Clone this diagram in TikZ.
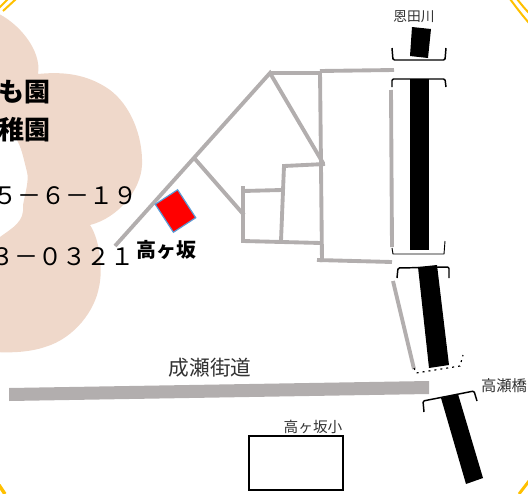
\documentclass[tikz,border=0pt]{standalone}
\usepackage{fontspec}
\newfontfamily\jp{Noto Sans CJK JP}
\newcommand{\jpsize}[1]{\fontsize{#1}{#1}\selectfont\jp}
\tikzset{
 x=0.75pt,y=-0.75pt,
 road/.style={draw=roadgray,line width=2.9pt,line cap=butt},
 river/.style={fill=black,draw=none},
 bank/.style={draw=black,line width=1.1pt,rounded corners=1pt},
 label/.style={text=labelgray,inner sep=0pt,anchor=center},
 corner/.style={draw=cornerorange,line width=1.5pt},
}
\definecolor{roadgray}{HTML}{B2AEAE}
\definecolor{labelgray}{HTML}{333333}
\definecolor{cornerorange}{HTML}{FFC000}
\definecolor{blob}{HTML}{EFD8CA}
\begin{document}
\begin{tikzpicture}
\useasboundingbox (0,0) rectangle (528,493);
\begin{scope}
\clip (0,0) rectangle (528,493);
% blob
\fill[blob] (-5,12) .. controls (18,22) and (42,50) .. (38,74)
 .. controls (58,72) and (85,72) .. (110,90)
 .. controls (130,105) and (143,135) .. (142,165)
 .. controls (141,190) and (118,218) .. (90,225)
 .. controls (100,240) and (103,270) .. (99,287)
 .. controls (95,310) and (75,338) .. (45,347)
 .. controls (30,352) and (12,353) .. (-5,352)
 -- (-5,237) -- (0,237)
 .. controls (12,228) and (25,222) .. (23,205)
 .. controls (26,190) and (29,180) .. (27,172)
 .. controls (24,160) and (22,150) .. (18,142)
 .. controls (14,134) and (6,125) .. (-5,120) -- cycle;
% corners
\draw[corner] (3,11) -- (16,-1);
\draw[corner] (-1,8) -- (8,-1);
\draw[corner] (510,-1) .. controls (516,7) and (522,15) .. (529,23);
\draw[corner] (517,-1) .. controls (521,4) and (525,9) .. (529,13);
\draw[corner,line width=2.2pt] (519,494) -- (529,481);
\draw[corner,line width=2.6pt] (-1,485) -- (5,494);
% text
\node[anchor=east,inner sep=0pt] (t1) at (51,92) {\jpsize{19.5}\bfseries も園};
\node[anchor=east,inner sep=0pt] (t2) at (51,130) {\jpsize{19.5}\bfseries 稚園};
\node[anchor=east,inner sep=0pt] (t3) at (138,196) {\jpsize{18}５－６－１９};
\node[anchor=east,inner sep=0pt] (t4) at (135,257) {\jpsize{18}３－０３２１};
% roads
\draw[road] (115,246) -- (270,73) -- (323,163);
\draw[road] (195,159) -- (244,215);
\draw[road] (270,73) -- (320,73);
\draw[road] (320,71) -- (394,70);
\draw[road] (320,71) -- (322,262);
\draw[road] (317,260) -- (392,262);
\draw[road] (325,164) -- (284,166) -- (281,241);
\draw[road] (243,186) -- (243,241) -- (321,243);
\draw[road] (243,191) -- (282,190);
\draw[road] (391,90) -- (392,247);
\draw[road] (393,281) -- (414,369);
% main road
\fill[roadgray] (9,388) -- (429,381) -- (429,394) -- (9,401) -- cycle;
% river
\fill[river] (412,27) -- (431,29) -- (428,58) -- (410,56) -- cycle;
\fill[river] (410,79) -- (429,79) -- (429,250) -- (410,250) -- cycle;
\fill[river] (418,267) -- (437,265) -- (449,365) -- (429,368) -- cycle;
\fill[river] (441,398) -- (458,394) -- (483,478) -- (466,484) -- cycle;
% banks
\draw[bank] (392,48) -- (393,60) -- (445,60) -- (446,48);
\draw[bank] (392,87) -- (392,79) -- (445,79) -- (446,87);
\draw[draw=black,line width=0.7pt] (392,248) -- (393,254) -- (444,254) -- (445,241);
\draw[bank] (397,278) -- (398,268) -- (449,267) -- (449,278);
\draw[bank] (424,412) -- (423,401) -- (474,391) -- (477,401);
\draw[black,line width=0.9pt,dash pattern=on 1.5pt off 3pt] (414,368) -- (416,373) -- (460,366) -- (463,355);
% kogasaka marker
\node[draw={rgb,255:red,91;green,155;blue,213},fill=red,line width=0.9pt,minimum width=25pt,minimum height=20pt,inner sep=0pt,rotate=-57] (station) at (175.5,211) {};
\node[inner sep=0pt] (tl) at (166,250) {\jpsize{15}\bfseries 高ヶ坂};
% labels
\node[label] (l1) at (414,17) {\jpsize{10.3}恩田川};
\node[label] (l2) at (210,368) {\jpsize{15.5}成瀬街道};
\node[label] (l3) at (504,386) {\jpsize{11.5}高瀬橋};
\node[label] (l4) at (313,427) {\jpsize{11}高ヶ坂小};
% school
\node[draw=black,line width=1.3pt,fill=white,minimum width=71pt,minimum height=41pt,inner sep=0pt] (school) at (296,463) {};
\end{scope}
\end{tikzpicture}
\end{document}
